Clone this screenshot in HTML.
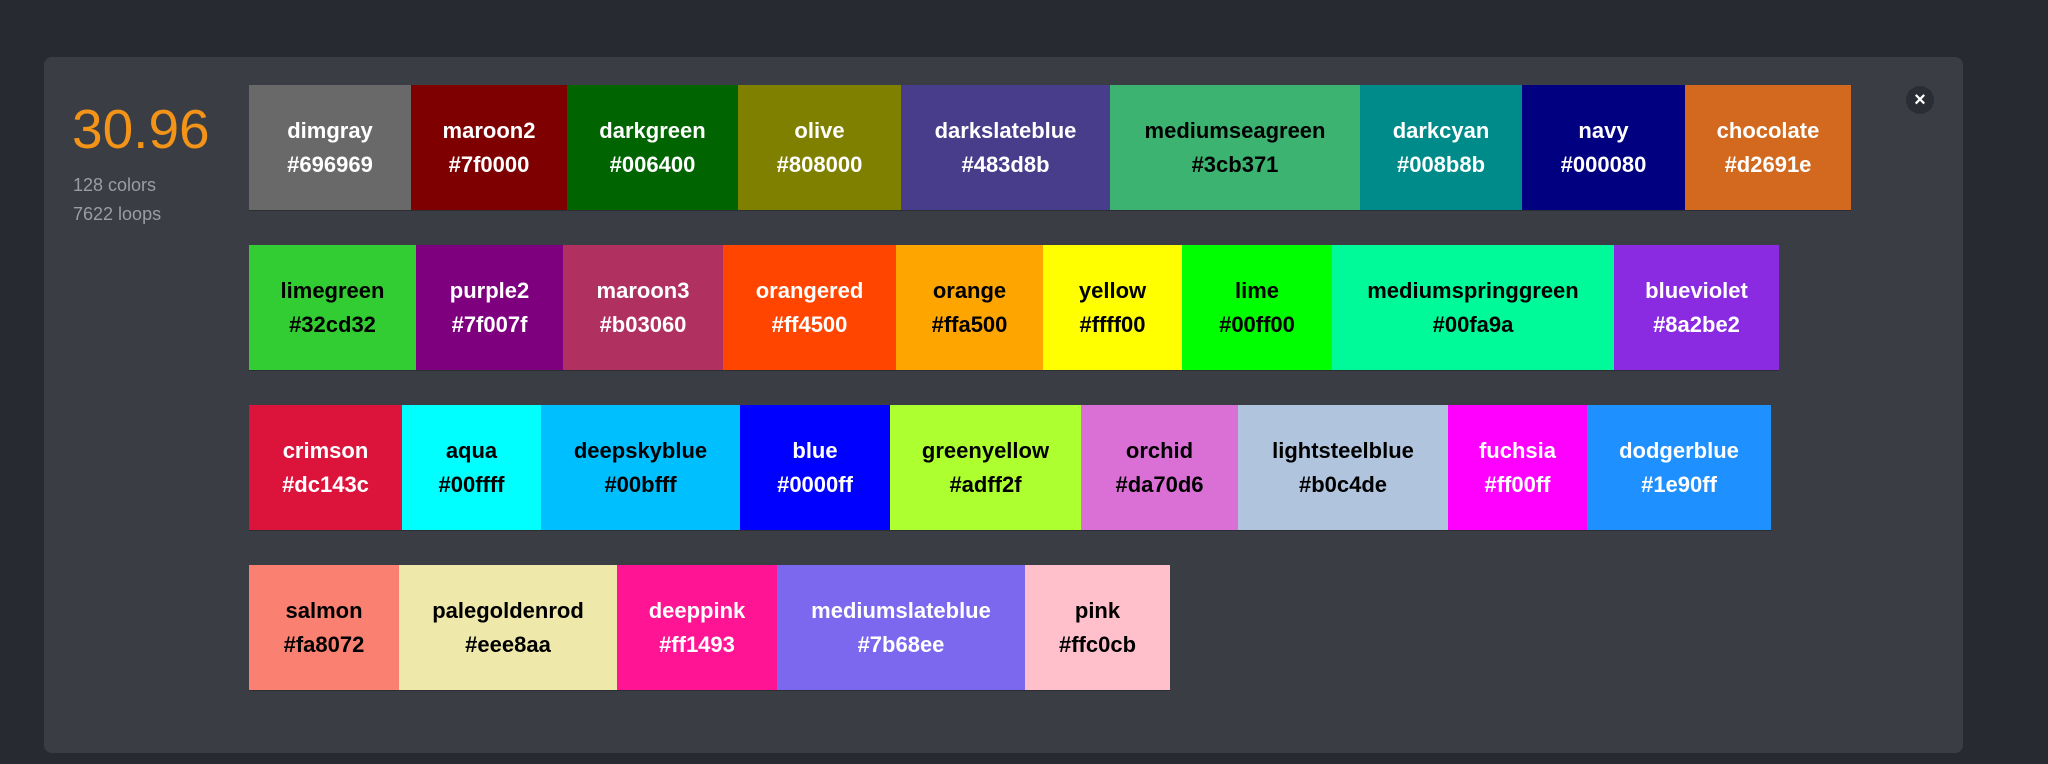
<!DOCTYPE html>
<html><head><meta charset="utf-8"><style>
html,body{margin:0;padding:0;}
body{width:2048px;height:764px;background:#282a32;position:relative;overflow:hidden;font-family:"Liberation Sans",Arial,sans-serif;}
.panel{position:absolute;left:44px;top:57px;width:1919px;height:696px;background:#3a3e44;border-radius:8px;}
.s{position:absolute;height:125px;display:flex;align-items:center;justify-content:center;text-align:center;font-weight:bold;font-size:22px;line-height:34px;box-shadow:0 1px 0 rgba(0,0,0,0.25);white-space:nowrap;}
.s div{text-align:center;}
.w{color:#fff}.k{color:#000}
.score{position:absolute;left:72px;top:96px;font-size:55px;color:#f39418;line-height:66px;}
.meta{position:absolute;left:73px;font-size:18px;color:#9a9da2;}
.x{position:absolute;left:1906px;top:86px;width:28px;height:28px;border-radius:50%;background:#2a2d33;color:#fff;font-weight:bold;font-size:20px;line-height:28px;text-align:center;}
</style></head><body>
<div class="panel"></div>
<div class="score">30.96</div>
<div class="meta" style="top:175px">128 colors</div>
<div class="meta" style="top:204px">7622 loops</div>
<div class="x">×</div>

<div class="s w" style="left:249px;top:85px;width:162px;background:#696969"><div>dimgray<br>#696969</div></div>
<div class="s w" style="left:411px;top:85px;width:156px;background:#7f0000"><div>maroon2<br>#7f0000</div></div>
<div class="s w" style="left:567px;top:85px;width:171px;background:#006400"><div>darkgreen<br>#006400</div></div>
<div class="s w" style="left:738px;top:85px;width:163px;background:#808000"><div>olive<br>#808000</div></div>
<div class="s w" style="left:901px;top:85px;width:209px;background:#483d8b"><div>darkslateblue<br>#483d8b</div></div>
<div class="s k" style="left:1110px;top:85px;width:250px;background:#3cb371"><div>mediumseagreen<br>#3cb371</div></div>
<div class="s w" style="left:1360px;top:85px;width:162px;background:#008b8b"><div>darkcyan<br>#008b8b</div></div>
<div class="s w" style="left:1522px;top:85px;width:163px;background:#000080"><div>navy<br>#000080</div></div>
<div class="s w" style="left:1685px;top:85px;width:166px;background:#d2691e"><div>chocolate<br>#d2691e</div></div>

<div class="s k" style="left:249px;top:245px;width:167px;background:#32cd32"><div>limegreen<br>#32cd32</div></div>
<div class="s w" style="left:416px;top:245px;width:147px;background:#7f007f"><div>purple2<br>#7f007f</div></div>
<div class="s w" style="left:563px;top:245px;width:160px;background:#b03060"><div>maroon3<br>#b03060</div></div>
<div class="s w" style="left:723px;top:245px;width:173px;background:#ff4500"><div>orangered<br>#ff4500</div></div>
<div class="s k" style="left:896px;top:245px;width:147px;background:#ffa500"><div>orange<br>#ffa500</div></div>
<div class="s k" style="left:1043px;top:245px;width:139px;background:#ffff00"><div>yellow<br>#ffff00</div></div>
<div class="s k" style="left:1182px;top:245px;width:150px;background:#00ff00"><div>lime<br>#00ff00</div></div>
<div class="s k" style="left:1332px;top:245px;width:282px;background:#00fa9a"><div>mediumspringgreen<br>#00fa9a</div></div>
<div class="s w" style="left:1614px;top:245px;width:165px;background:#8a2be2"><div>blueviolet<br>#8a2be2</div></div>

<div class="s w" style="left:249px;top:405px;width:153px;background:#dc143c"><div>crimson<br>#dc143c</div></div>
<div class="s k" style="left:402px;top:405px;width:139px;background:#00ffff"><div>aqua<br>#00ffff</div></div>
<div class="s k" style="left:541px;top:405px;width:199px;background:#00bfff"><div>deepskyblue<br>#00bfff</div></div>
<div class="s w" style="left:740px;top:405px;width:150px;background:#0000ff"><div>blue<br>#0000ff</div></div>
<div class="s k" style="left:890px;top:405px;width:191px;background:#adff2f"><div>greenyellow<br>#adff2f</div></div>
<div class="s k" style="left:1081px;top:405px;width:157px;background:#da70d6"><div>orchid<br>#da70d6</div></div>
<div class="s k" style="left:1238px;top:405px;width:210px;background:#b0c4de"><div>lightsteelblue<br>#b0c4de</div></div>
<div class="s w" style="left:1448px;top:405px;width:139px;background:#ff00ff"><div>fuchsia<br>#ff00ff</div></div>
<div class="s w" style="left:1587px;top:405px;width:184px;background:#1e90ff"><div>dodgerblue<br>#1e90ff</div></div>

<div class="s k" style="left:249px;top:565px;width:150px;background:#fa8072"><div>salmon<br>#fa8072</div></div>
<div class="s k" style="left:399px;top:565px;width:218px;background:#eee8aa"><div>palegoldenrod<br>#eee8aa</div></div>
<div class="s w" style="left:617px;top:565px;width:160px;background:#ff1493"><div>deeppink<br>#ff1493</div></div>
<div class="s w" style="left:777px;top:565px;width:248px;background:#7b68ee"><div>mediumslateblue<br>#7b68ee</div></div>
<div class="s k" style="left:1025px;top:565px;width:145px;background:#ffc0cb"><div>pink<br>#ffc0cb</div></div>
</body></html>
